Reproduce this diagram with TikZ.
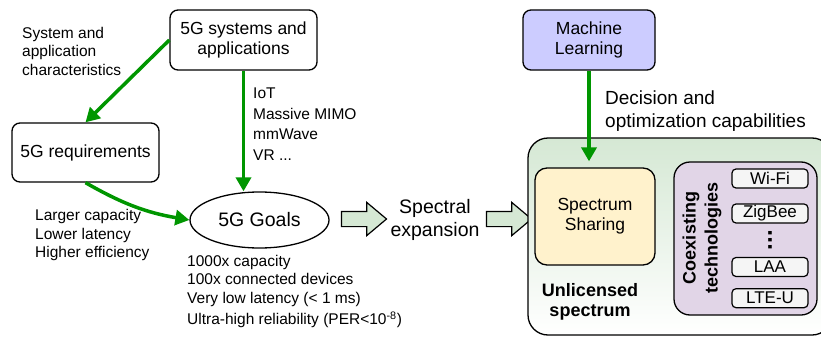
\documentclass[tikz,border=0pt]{standalone}
\usepackage{fontspec}
\setmainfont{Liberation Sans}
\usetikzlibrary{arrows.meta,positioning,shapes.geometric,shapes.arrows}
\definecolor{flowgreen}{RGB}{0,150,0}
\definecolor{mllilac}{RGB}{204,204,255}
\definecolor{sharecream}{RGB}{255,242,204}
\definecolor{coexlilac}{RGB}{225,213,231}
\definecolor{unlicgreen}{RGB}{213,232,212}

\begin{document}
\begin{tikzpicture}[x=1pt,y=1pt,
    box/.style={
    % The shape:
    rectangle,rounded corners=8pt,
    % The rest
    line width=1.3pt,draw=black,align=center,
    font=\fontsize{17.5}{20}\selectfont},
    techbox/.style={
    rectangle,rounded corners=4pt,minimum width=76pt,minimum height=19pt,inner sep=1pt,
    line width=1.2pt,draw=black,fill=black!4,
    font=\fontsize{17}{19}\selectfont},
    note/.style={align=left,anchor=west,inner sep=0pt,font=\fontsize{15.5}{18.5}\selectfont},
    bignote/.style={inner sep=0pt,font=\fontsize{19.5}{23.5}\selectfont},
    flow/.style={line width=3.5pt,draw=flowgreen,-{Triangle[length=14pt,width=15pt]}},
    blockarrow/.style={
    % length is the height, the shaft comes from the ysep
    single arrow,minimum height=45pt,minimum width=0pt,inner xsep=0pt,inner ysep=7pt,
    single arrow head extend=9pt,single arrow tip angle=80,
    line width=1.2pt,draw=black,fill=unlicgreen}]
    \useasboundingbox (0,0) rectangle (821,-337);

    % left part
    \node (sys) [box,minimum width=147pt,minimum height=60pt] at (243.5,-40) {5G systems and\\applications};
    \node (req) [box,minimum width=147pt,minimum height=59pt] at (85.5,-152.5) {5G requirements};
    \node (goals) [ellipse,draw=black,line width=1.3pt,minimum width=139pt,minimum height=56pt,
        font=\fontsize{19.5}{22}\selectfont] at (259.5,-220) {5G Goals};
    \node (charlbl) [note] at (22,-51) {System and\\application\\characteristics};
    \node (techlbl) [note,font=\fontsize{15.5}{20.5}\selectfont] at (253,-124) {IoT\\Massive MIMO\\mmWave\\VR ...};
    \node (reqlbl) [note] at (35,-235) {Larger capacity\\Lower latency\\Higher efficiency};
    \node (goallbl) [note,anchor=north west] at (187,-255) {1000x capacity\\100x connected devices\\Very low latency (< 1 ms)\\[3pt]Ultra-high reliability (PER<10\textsuperscript{-8})};

    \draw[flow] (sys.west) -- (req.north);
    \draw[flow] (sys.south) -- (sys.south |- goals.north);
    \draw[flow] (req.south) to[bend right=10] (goals.west);

    % spectral expansion
    \node (arr1) [blockarrow] at (359.5,-219) {};
    \node (expand) [bignote,align=center] at (435,-220) {Spectral\\expansion};
    \node (arr2) [blockarrow] at (504.5,-219) {};

    % right part
    \node (unlic) [rectangle,rounded corners=20pt,line width=1.3pt,draw=black,
        top color=unlicgreen,bottom color=white,minimum width=304pt,minimum height=197pt] at (680,-236.5) {};
    \node (ml) [box,fill=mllilac,minimum width=132pt,minimum height=60pt] at (589,-40) {Machine\\Learning};
    \node (decilbl) [bignote,align=left,anchor=west,font=\fontsize{19}{23}\selectfont] at (605,-111.5) {Decision and\\optimization capabilities};
    \node (share) [box,rounded corners=12pt,fill=sharecream,minimum width=120pt,minimum height=97pt] at (595,-216.5) {Spectrum\\Sharing};
    \node (uniclbl) [align=center,font=\fontsize{18}{20}\selectfont\bfseries] at (590,-302) {Unlicensed\\spectrum};
    \node (coex) [rectangle,rounded corners=16pt,line width=1.3pt,draw=black,fill=coexlilac,
        minimum width=143pt,minimum height=153pt] at (745.5,-238.5) {};
    \node (coexlbl) [rotate=90,align=center,font=\fontsize{18}{22}\selectfont\bfseries] at (702,-238) {Coexisting\\technologies};
    \node (wifi) [techbox] at (770,-178.5) {Wi-Fi};
    \node (zigbee) [techbox] at (770,-213.5) {ZigBee};
    \node (dots) [inner sep=0pt,font=\fontsize{24}{24}\selectfont\bfseries] at (770,-240) {\rotatebox{90}{...}};
    \node (laa) [techbox] at (770,-267) {LAA};
    \node (lteu) [techbox,below=11pt of laa] {LTE-U};

    \draw[flow,shorten >=6pt] (ml.south) -- (ml.south |- share.north);
\end{tikzpicture}
\end{document}
